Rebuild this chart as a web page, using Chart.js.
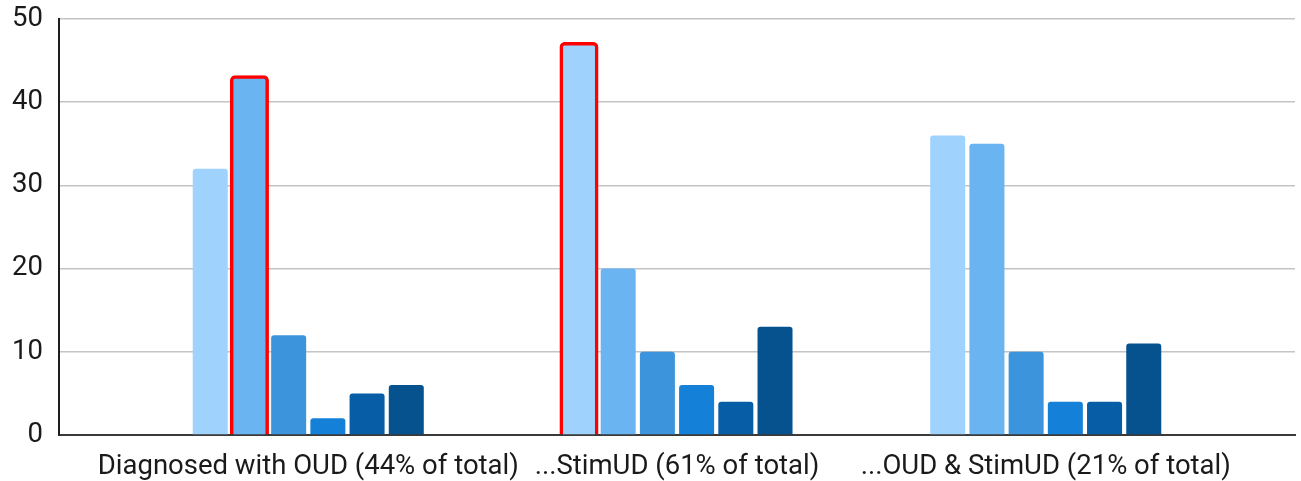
<!DOCTYPE html>
<html>
<head>
<meta charset="utf-8">
<style>
  html, body { margin: 0; padding: 0; background: #ffffff; }
  #wrap { width: 1301px; height: 481px; }
</style>
<script src="https://cdn.jsdelivr.net/npm/chart.js@4/dist/chart.umd.min.js"></script>
</head>
<body>
<div id="wrap"><canvas id="chart" width="1301" height="481"></canvas></div>
<script>
// Category labels along the x axis
const categories = [
  'Diagnosed with OUD (44% of total)',
  '...StimUD (61% of total)',
  '...OUD & StimUD (21% of total)'
];

// One array per series, one value per category
const series1 = [32, 47, 36];
const series2 = [43, 20, 35];
const series3 = [12, 10, 10];
const series4 = [2, 6, 4];
const series5 = [5, 4, 4];
const series6 = [6, 13, 11];

// Y axis ticks
const yTicks = [0, 10, 20, 30, 40, 50];

// Bars outlined in red: [series index, category index]
const outlined = [[1, 0], [0, 1]];

const seriesValues = [series1, series2, series3, series4, series5, series6];
const seriesColors = ['#9fd2fd', '#6ab4f2', '#3c95dc', '#1580d7', '#075da6', '#06528f'];

const isOutlined = (s, c) => outlined.some(([si, ci]) => si === s && ci === c);

const datasets = seriesValues.map((vals, s) => ({
  label: 'Series ' + (s + 1),
  data: vals.map((v, i) => ({ x: i, y: v })),
  backgroundColor: seriesColors[s],
  borderColor: vals.map((v, i) => isOutlined(s, i) ? '#ff0000' : seriesColors[s]),
  borderWidth: vals.map((v, i) => isOutlined(s, i) ? 3.5 : 0),
  inflateAmount: vals.map((v, i) => isOutlined(s, i) ? 2 : 'auto'),
  borderRadius: vals.map((v, i) => isOutlined(s, i) ? 5 : 3),
  borderSkipped: 'bottom',
  categoryPercentage: 0.638,
  barPercentage: 0.893
}));

const FONT = { family: 'Roboto', size: 27.5 };

new Chart(document.getElementById('chart'), {
  type: 'bar',
  data: { datasets },
  options: {
    responsive: false,
    animation: false,
    layout: { padding: { left: 0, right: 6, top: 19, bottom: 0 } },
    plugins: { legend: { display: false }, tooltip: { enabled: false } },
    scales: {
      x: {
        type: 'linear',
        offset: false,
        min: -0.676,
        max: 2.676,
        z: 1,
        grid: { display: false, drawTicks: false },
        border: { display: true, color: '#3a3a3a', width: 2 },
        afterBuildTicks: (scale) => {
          scale.ticks = categories.map((c, i) => ({ value: i }));
        },
        afterFit: (scale) => {
          scale.height = 46;
          scale.paddingLeft = 0;
          scale.paddingRight = 0;
        },
        ticks: {
          autoSkip: false,
          maxRotation: 0,
          minRotation: 0,
          padding: 16,
          color: '#1a1a1a',
          font: FONT,
          callback: (v) => categories[v] ?? ''
        }
      },
      y: {
        min: 0,
        max: 50,
        afterBuildTicks: (scale) => {
          scale.ticks = yTicks.map(v => ({ value: v }));
        },
        afterFit: (scale) => {
          scale.width = 59;
          scale.paddingTop = 0;
          scale.paddingBottom = 0;
        },
        grid: { color: '#c4c4c4', lineWidth: 1.5, drawTicks: false },
        border: { display: true, color: '#1e1e1e', width: 2 },
        ticks: {
          padding: 16,
          color: '#1a1a1a',
          font: FONT
        }
      }
    }
  }
});
</script>
</body>
</html>
